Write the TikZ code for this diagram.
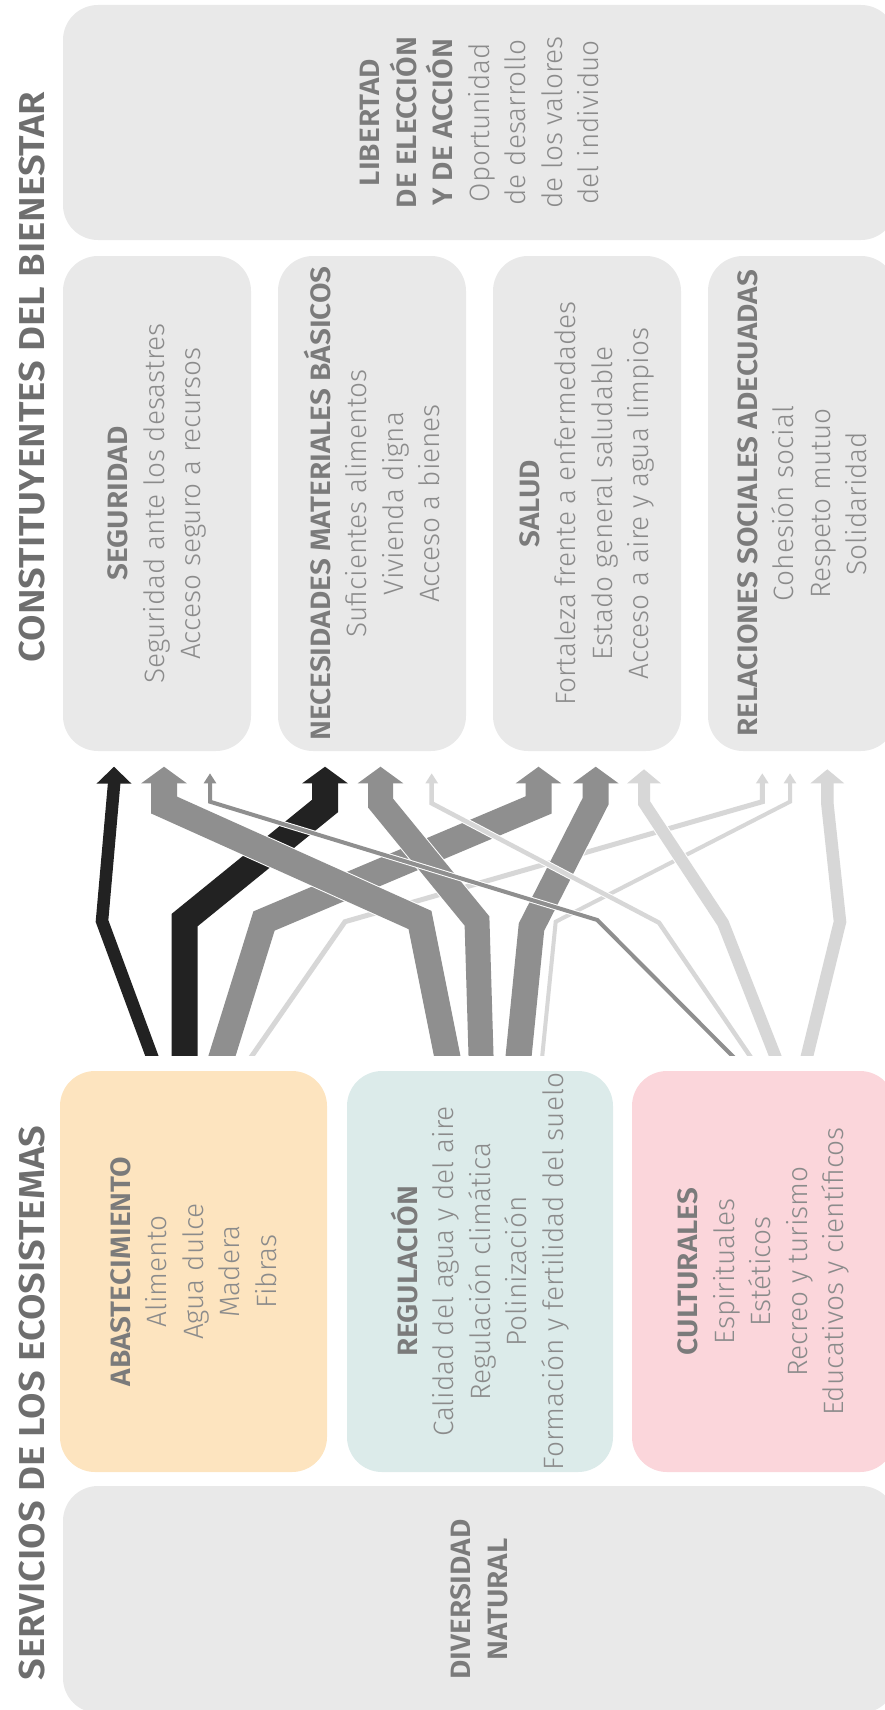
\documentclass[tikz,border=0pt]{standalone}
\usepackage{fontspec}
\IfFontExistsTF{Fira Sans Light}{%
  \setmainfont{Fira Sans Light}[BoldFont={Fira Sans SemiBold}, BoldFeatures={FakeStretch=1.065}]%
}{%
  \setmainfont{Fira Sans}%
}
\usetikzlibrary{arrows.meta}
\definecolor{boxgrey}{HTML}{E9E9E9}
\definecolor{abastc}{HTML}{FDE4BF}
\definecolor{regc}{HTML}{DCEBEA}
\definecolor{cultc}{HTML}{FBD6DB}
\definecolor{headc}{HTML}{7B7B7B}
\definecolor{bodyc}{HTML}{8B8B8B}
\definecolor{titlec}{HTML}{6E6E6E}
\definecolor{fblack}{HTML}{222222}
\definecolor{fgrey}{HTML}{8F8F8F}
\definecolor{flight}{HTML}{D7D7D7}
\newcommand\hd[1]{{\bfseries\color{headc}#1}}
\newcommand\flow[5]{%
  \draw[white, line width=#1+2] #5;
  \draw[#2, line width=#1, -{Triangle[length=#3, width=#4]}] #5;
}
\tikzset{
  stbox/.style={rotate=90, rounded corners=35pt, align=center, inner sep=0pt,
    font=\fontsize{28}{36.5}\selectfont, text=bodyc},
  sectitle/.style={rotate=90, inner sep=0pt, font=\fontsize{36}{40}\selectfont\bfseries, text=titlec}
}
\begin{document}
\begin{tikzpicture}[x=1pt,y=-1pt]
\useasboundingbox (0,0) rectangle (884,1710);
% section titles
\node[sectitle] (t1) at (32,377) {CONSTITUYENTES DEL BIENESTAR};
\node[sectitle] (t2) at (32,1403) {SERVICIOS DE LOS ECOSISTEMAS};
% wellbeing boxes
\node[stbox, fill=boxgrey, minimum width=235pt, minimum height=833pt] (lib) at (479.5,122.5)
  {\hd{LIBERTAD}\\\hd{DE ELECCIÓN}\\\hd{Y DE ACCIÓN}\\Oportunidad\\de desarrollo\\de los valores\\del individuo};
\node[stbox, fill=boxgrey, minimum width=495pt, minimum height=188pt] (seg) at (157,503.5)
  {\hd{SEGURIDAD}\\Seguridad ante los desastres\\Acceso seguro a recursos};
\node[stbox, fill=boxgrey, minimum width=495pt, minimum height=188pt] (nec) at (372,503.5)
  {\hd{NECESIDADES MATERIALES BÁSICOS}\\Suficientes alimentos\\Vivienda digna\\Acceso a bienes};
\node[stbox, fill=boxgrey, minimum width=495pt, minimum height=188pt] (sal) at (587,503.5)
  {\hd{SALUD}\\Fortaleza frente a enfermedades\\Estado general saludable\\Acceso a aire y agua limpios};
\node[stbox, fill=boxgrey, minimum width=495pt, minimum height=188pt] (rel) at (802,503.5)
  {\hd{RELACIONES SOCIALES ADECUADAS}\\Cohesión social\\Respeto mutuo\\Solidaridad};
% service boxes
\node[stbox, fill=abastc, minimum width=401pt, minimum height=267pt] (abs) at (193.5,1271.5)
  {\hd{ABASTECIMIENTO}\\Alimento\\Agua dulce\\Madera\\Fibras};
\node[stbox, fill=regc, minimum width=401pt, minimum height=266pt] (reg) at (480,1271.5)
  {\hd{REGULACIÓN}\\Calidad del agua y del aire\\Regulación climática\\Polinización\\Formación y fertilidad del suelo};
\node[stbox, fill=cultc, minimum width=401pt, minimum height=263pt] (cul) at (763.5,1271.5)
  {\hd{CULTURALES}\\Espirituales\\Estéticos\\Recreo y turismo\\Educativos y científicos};
\node[stbox, fill=boxgrey, minimum width=227pt, minimum height=833pt] (div) at (479.5,1599.5)
  {\hd{DIVERSIDAD}\\\hd{NATURAL}};
% flow end points
\coordinate (a1s) at (156.5,1068.4); \coordinate (a1e) at (114,766.7);
\coordinate (a2s) at (184.7,1068.4); \coordinate (a2e) at (325,766.7);
\coordinate (a3s) at (218.1,1068.4); \coordinate (a3e) at (538.5,766.7);
\coordinate (a4s) at (243.3,1068.3); \coordinate (a4e) at (762.3,773.3);
\coordinate (r1s) at (449.7,1068.5); \coordinate (r1e) at (164,766.7);
\coordinate (r2s) at (481.4,1068.4); \coordinate (r2e) at (380.5,766.7);
\coordinate (r3s) at (517.4,1067.8); \coordinate (r3e) at (595.7,766.7);
\coordinate (r4s) at (541,1068.3);   \coordinate (r4e) at (790,773.3);
\coordinate (c1s) at (744.9,1068.5); \coordinate (c1e) at (210,773.3);
\coordinate (c2s) at (758.3,1068.2); \coordinate (c2e) at (431.7,773.3);
\coordinate (c3s) at (780,1068.2);   \coordinate (c3e) at (644,769.3);
\coordinate (c4s) at (804,1068.3);   \coordinate (c4e) at (827.3,769.3);
\begin{scope}
\clip (0,700) rectangle (884,1055);
% from abastecimiento
\flow{12.5}{fblack}{17pt}{34pt}{(a1s) -- (102,921) -- (114,785) -- (a1e)}
\flow{26}{fblack}{16.7pt}{45pt}{(a2s) -- (184.7,920) -- (325,806) -- (325,785) -- (a2e)}
\flow{26}{fgrey}{16.7pt}{45pt}{(a3s) -- (264,921) -- (538.5,805) -- (538.5,785) -- (a3e)}
\flow{5}{flight}{10pt}{12pt}{(a4s) -- (345,921.7) -- (762.3,801.7) -- (a4e)}
% from regulacion
\flow{26}{fgrey}{16.7pt}{45pt}{(r1s) -- (420,920) -- (164,805) -- (164,785) -- (r1e)}
\flow{25}{fgrey}{16.7pt}{45pt}{(r2s) -- (477,921) -- (380.5,803) -- (380.5,785) -- (r2e)}
\flow{26}{fgrey}{16.7pt}{45pt}{(r3s) -- (531.5,927) -- (595.7,801) -- (595.7,785) -- (r3e)}
\flow{4}{flight}{10pt}{12pt}{(r4s) -- (555.7,921.7) -- (790,801.7) -- (r4e)}
% from culturales
\flow{4}{fgrey}{10pt}{12pt}{(c1s) -- (597.3,920) -- (210,801.7) -- (c1e)}
\flow{4.5}{flight}{10pt}{12pt}{(c2s) -- (659,922.7) -- (431.7,803.3) -- (c2e)}
\flow{12}{flight}{14pt}{33pt}{(c3s) -- (723,923) -- (644,803) -- (644,785) -- (c3e)}
\flow{12.5}{flight}{14pt}{33pt}{(c4s) -- (840,921.7) -- (827.3,803) -- (827.3,785) -- (c4e)}
\end{scope}
\end{tikzpicture}
\end{document}
